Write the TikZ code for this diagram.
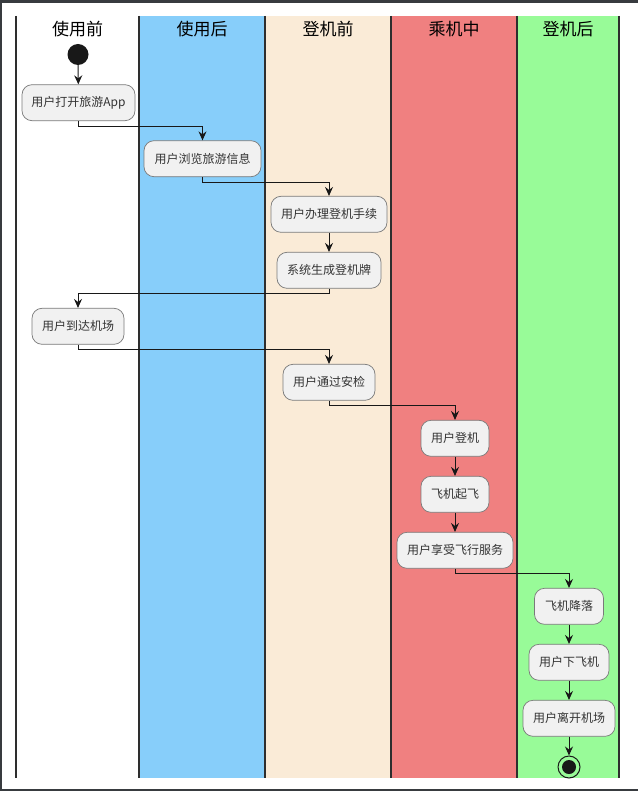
\documentclass[tikz,border=0pt]{standalone}
\usepackage{fontspec}
\setmainfont{Liberation Sans}
\newfontfamily\cjk{Noto Sans CJK SC}
\usetikzlibrary{arrows.meta}
\definecolor{frameC}{HTML}{383B3F}
\definecolor{laneLine}{HTML}{2E2E2E}
\definecolor{laneB}{HTML}{87CEFA}
\definecolor{laneC}{HTML}{FAEBD7}
\definecolor{laneD}{HTML}{F08080}
\definecolor{laneE}{HTML}{98FB98}
\definecolor{actFill}{HTML}{F1F1F1}
\definecolor{actLine}{HTML}{7A7A7A}
\definecolor{actText}{HTML}{333333}
\definecolor{flowC}{HTML}{181818}
\tikzset{
  lanesep/.style={draw=laneLine, line width=2pt},
  hdr/.style={font=\cjk\fontsize{17}{20}\selectfont, text=black, inner sep=0pt},
  act/.style={draw=actLine, line width=0.7pt, fill=actFill, rounded corners=10pt,
    minimum height=36pt, inner sep=0pt, text=actText, font=\cjk\fontsize{12}{14}\selectfont},
  flow/.style={draw=flowC, line width=1pt, -{Stealth[length=9pt,width=8pt,inset=3pt]}},
  startnode/.style={circle, fill=flowC, minimum size=21pt, inner sep=0pt},
  endouter/.style={circle, draw=flowC, line width=1pt, minimum size=22pt, inner sep=0pt},
  endinner/.style={circle, fill=flowC, minimum size=14pt, inner sep=0pt}
}
\begin{document}
\begin{tikzpicture}[x=1pt,y=-1pt]
\useasboundingbox (0,0) rectangle (638,791);
\fill[white] (0,0) rectangle (638,791);
% frame
\fill[frameC] (0,0) rectangle (638,3);
\fill[frameC] (0,0) rectangle (1.5,791);
\fill[frameC] (0,789) rectangle (638,791);
% lane fills
\fill[laneB] (139,16) rectangle (265,778);
\fill[laneC] (265,16) rectangle (391,778);
\fill[laneD] (391,16) rectangle (517,778);
\fill[laneE] (517,16) rectangle (619,778);
% lane separators
\foreach \lx in {16,139,265,391,517,619} {
  \draw[lanesep] (\lx,16) -- (\lx,778);
}
% headers
\node[hdr] (h1) at (77.5,29) {使用前};
\node[hdr] (h2) at (202,29) {使用后};
\node[hdr] (h3) at (328,29) {登机前};
\node[hdr] (h4) at (454,29) {乘机中};
\node[hdr] (h5) at (568,29) {登机后};
% nodes
\node[startnode] (start) at (78,54.5) {};
\node[act, minimum width=113pt] (n1) at (78.5,102.7) {用户打开旅游App};
\node[act, minimum width=117pt] (n2) at (202.5,158.7) {用户浏览旅游信息};
\node[act, minimum width=116pt] (n3) at (329,214.3) {用户办理登机手续};
\node[act, minimum width=104pt] (n4) at (329,270.3) {系统生成登机牌};
\node[act, minimum width=92pt] (n5) at (78,326.3) {用户到达机场};
\node[act, minimum width=92pt] (n6) at (329,382.3) {用户通过安检};
\node[act, minimum width=68pt] (n7) at (455,438.3) {用户登机};
\node[act, minimum width=68pt] (n8) at (455,494.3) {飞机起飞};
\node[act, minimum width=116pt] (n9) at (455,550.3) {用户享受飞行服务};
\node[act, minimum width=69pt] (n10) at (569,606.3) {飞机降落};
\node[act, minimum width=80pt] (n11) at (569,662.3) {用户下飞机};
\node[act, minimum width=92pt] (n12) at (569,718.3) {用户离开机场};
\node[endouter] (stop) at (569,767) {};
\node[endinner] (stopin) at (569,767) {};
% connectors
\draw[flow] (start) -- (n1);
\draw[flow] (n1.south) -- ++(0,5) -| (n2.north);
\draw[flow] (n2.south) -- ++(0,5) -| (n3.north);
\draw[flow] (n3) -- (n4);
\draw[flow] (n4.south) -- ++(0,5) -| (n5.north);
\draw[flow] (n5.south) -- ++(0,5) -| (n6.north);
\draw[flow] (n6.south) -- ++(0,5) -| (n7.north);
\draw[flow] (n7) -- (n8);
\draw[flow] (n8) -- (n9);
\draw[flow] (n9.south) -- ++(0,5) -| (n10.north);
\draw[flow] (n10) -- (n11);
\draw[flow] (n11) -- (n12);
\draw[flow] (n12) -- (stop);
\end{tikzpicture}
\end{document}
